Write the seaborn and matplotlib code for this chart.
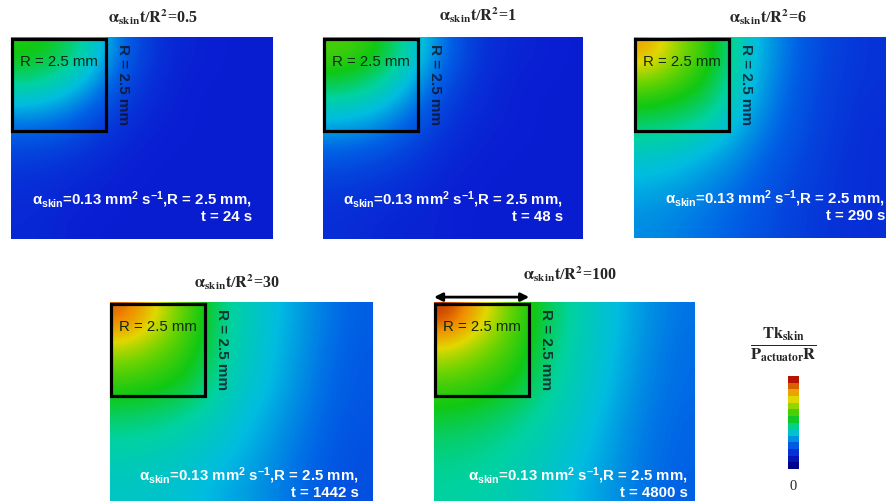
import numpy as np
import matplotlib
matplotlib.use("Agg")
import matplotlib.pyplot as plt
import seaborn as sns
from matplotlib.colors import LinearSegmentedColormap
from matplotlib.patches import Rectangle

# ---------------- data ----------------
ratios = ["0.5", "1", "6", "30", "100"]          # alpha_skin t / R^2
times_s = [24, 48, 290, 1442, 4800]              # t in s
alpha_skin = "0.13"                              # mm^2 s^-1
R_label = "2.5"                                  # mm

# normalised temperature Tk_skin/(P_actuator R), coarse grid (rows top->bottom, cols left->right)
field_05 = [
    [0.57, 0.53, 0.42, 0.24, 0.15, 0.13, 0.12, 0.12],
    [0.45, 0.41, 0.31, 0.19, 0.14, 0.12, 0.12, 0.12],
    [0.28, 0.26, 0.20, 0.15, 0.13, 0.12, 0.12, 0.12],
    [0.18, 0.17, 0.15, 0.13, 0.12, 0.12, 0.12, 0.12],
    [0.15, 0.14, 0.13, 0.12, 0.12, 0.12, 0.12, 0.12],
    [0.14, 0.13, 0.12, 0.12, 0.12, 0.12, 0.12, 0.12],
]
field_1 = [
    [0.62, 0.58, 0.46, 0.30, 0.18, 0.14, 0.13, 0.12],
    [0.50, 0.46, 0.37, 0.23, 0.16, 0.13, 0.12, 0.12],
    [0.35, 0.33, 0.26, 0.18, 0.14, 0.13, 0.12, 0.12],
    [0.23, 0.21, 0.18, 0.15, 0.13, 0.12, 0.12, 0.12],
    [0.17, 0.16, 0.15, 0.13, 0.12, 0.12, 0.12, 0.12],
    [0.15, 0.14, 0.13, 0.13, 0.12, 0.12, 0.12, 0.12],
]
field_6 = [
    [0.85, 0.68, 0.56, 0.40, 0.30, 0.22, 0.18, 0.16],
    [0.62, 0.58, 0.52, 0.38, 0.28, 0.21, 0.17, 0.16],
    [0.50, 0.48, 0.44, 0.34, 0.26, 0.20, 0.17, 0.15],
    [0.40, 0.38, 0.34, 0.29, 0.23, 0.19, 0.16, 0.15],
    [0.34, 0.32, 0.29, 0.25, 0.21, 0.18, 0.16, 0.15],
    [0.30, 0.28, 0.26, 0.23, 0.20, 0.17, 0.16, 0.15],
]
field_30 = [
    [0.93, 0.76, 0.60, 0.46, 0.40, 0.34, 0.28, 0.24],
    [0.70, 0.64, 0.57, 0.45, 0.39, 0.33, 0.27, 0.23],
    [0.58, 0.56, 0.52, 0.43, 0.38, 0.32, 0.26, 0.23],
    [0.48, 0.47, 0.44, 0.40, 0.35, 0.30, 0.25, 0.22],
    [0.43, 0.42, 0.40, 0.37, 0.33, 0.28, 0.24, 0.21],
    [0.40, 0.39, 0.37, 0.34, 0.31, 0.27, 0.23, 0.21],
]
field_100 = [
    [0.97, 0.80, 0.62, 0.50, 0.43, 0.37, 0.31, 0.27],
    [0.74, 0.66, 0.59, 0.48, 0.42, 0.36, 0.30, 0.26],
    [0.60, 0.58, 0.54, 0.46, 0.41, 0.35, 0.29, 0.26],
    [0.52, 0.50, 0.47, 0.43, 0.39, 0.33, 0.28, 0.25],
    [0.47, 0.46, 0.44, 0.41, 0.37, 0.32, 0.27, 0.25],
    [0.45, 0.44, 0.42, 0.39, 0.35, 0.31, 0.27, 0.24],
]
fields = [field_05, field_1, field_6, field_30, field_100]

colorbar_levels = list(np.linspace(0.0, 1.0, 14))
colorbar_tick = "0"

# ---------------- style ----------------
sns.set_theme(style="white")
plt.rcParams["font.family"] = ["Liberation Sans", "DejaVu Sans"]
plt.rcParams["mathtext.fontset"] = "custom"
plt.rcParams["mathtext.rm"] = "Liberation Sans:bold"
plt.rcParams["mathtext.it"] = "Liberation Sans:bold"
plt.rcParams["mathtext.bf"] = "Liberation Sans:bold"

cmap = LinearSegmentedColormap.from_list(
    "rainbow_fe",
    [
        (0.00, "#00008c"),
        (0.12, "#0a1ed2"),
        (0.25, "#0064e6"),
        (0.36, "#00bce0"),
        (0.45, "#00d2a0"),
        (0.55, "#10c814"),
        (0.66, "#70d400"),
        (0.77, "#e0d800"),
        (0.88, "#f08c00"),
        (1.00, "#b41400"),
    ],
)

W, H = 887, 502
fig = plt.figure(figsize=(W / 100, H / 100), dpi=100)
fig.patch.set_facecolor("white")


def px_axes(x0, y0, w, h):
    return fig.add_axes([x0 / W, 1 - (y0 + h) / H, w / W, h / H])


panel_px = [(11, 38, 262, 202), (323, 38, 260, 202), (634, 38, 253, 201),
            (110, 303, 263, 202), (434, 303, 261, 202)]
title_px = [(153, 17), (478, 15), (768, 17), (237, 282), (570, 274)]
text_right_px = [21, 20, 2, 14, 7]
text_top_px = [162, 162, 161, 173, 173]

PX_X = 2.5 / 96.0   # mm per pixel horizontally
PX_Y = 2.5 / 94.0   # mm per pixel vertically

for i, (pp, fld) in enumerate(zip(panel_px, fields)):
    x0, y0, w, h = pp
    ax = px_axes(x0, y0, w, h)
    wmm, hmm = w * PX_X, h * PX_Y
    ax.imshow(np.array(fld), cmap=cmap, vmin=0, vmax=1, interpolation="bicubic",
              extent=[0, wmm, hmm, 0], aspect="auto")
    ax.set_xlim(0, wmm)
    ax.set_ylim(hmm, 0)
    ax.set_axis_off()

    ax.add_patch(Rectangle((0.02, 0.05), 2.46, 2.45, fill=False, edgecolor="black",
                           linewidth=2.3, clip_on=False, zorder=5))
    ax.text(0.23, 0.64, f"R = {R_label} mm", fontsize=10.8, color="#0c2a12",
            ha="left", va="center", zorder=6)
    ax.text(2.92, 0.17, f"R = {R_label} mm", fontsize=11, color="#101020", alpha=0.8,
            fontweight="bold", rotation=-90, ha="center", va="top", zorder=6)

    xr = (w - text_right_px[i]) / w
    y1 = 1 - text_top_px[i] / h
    y2 = 1 - (text_top_px[i] + 17) / h
    ax.text(xr, y1, r"$\alpha_{skin}$=" + alpha_skin + r" mm$^2$ s$^{-1}$,R = " + R_label + " mm,",
            transform=ax.transAxes, ha="right", va="center", color="white",
            fontsize=10.8, fontweight="bold", zorder=6)
    ax.text(xr, y2, f"t = {times_s[i]} s", transform=ax.transAxes, ha="right",
            va="center", color="white", fontsize=10.8, fontweight="bold", zorder=6)

    tx, ty = title_px[i]
    fig.text(tx / W, 1 - ty / H,
             r"$\mathbf{\alpha}_{\mathbf{skin}}\mathbf{t}/\mathbf{R}^{\mathbf{2}}$=" + ratios[i],
             ha="center", va="center", fontsize=11.5, fontweight="bold",
             family=["Liberation Serif", "DejaVu Serif"], math_fontfamily="stix")

    if i == 4:
        ax.annotate("", xy=(0.0, -0.13), xytext=(2.48, -0.13),
                    arrowprops=dict(arrowstyle="<|-|>", color="black", lw=2,
                                    mutation_scale=12, shrinkA=0, shrinkB=0),
                    annotation_clip=False)

# colour bar drawn as a seaborn heatmap of the levels
cax = px_axes(788, 377, 11, 93)
sns.heatmap(np.array(colorbar_levels)[::-1].reshape(-1, 1), ax=cax, cmap=cmap,
            vmin=0, vmax=1, cbar=False, xticklabels=False, yticklabels=False)
cax.set_axis_off()

fig.text(783 / W, 1 - 345 / H,
         r"$\frac{\mathbf{Tk_{skin}}}{\mathbf{P_{actuator}R}}$",
         ha="center", va="center", fontsize=17, math_fontfamily="stix")
fig.text(793 / W, 1 - 487 / H, colorbar_tick, ha="center", va="center", fontsize=10.5,
         family=["Liberation Serif", "DejaVu Serif"])

fig.savefig("out.png", dpi=100)
